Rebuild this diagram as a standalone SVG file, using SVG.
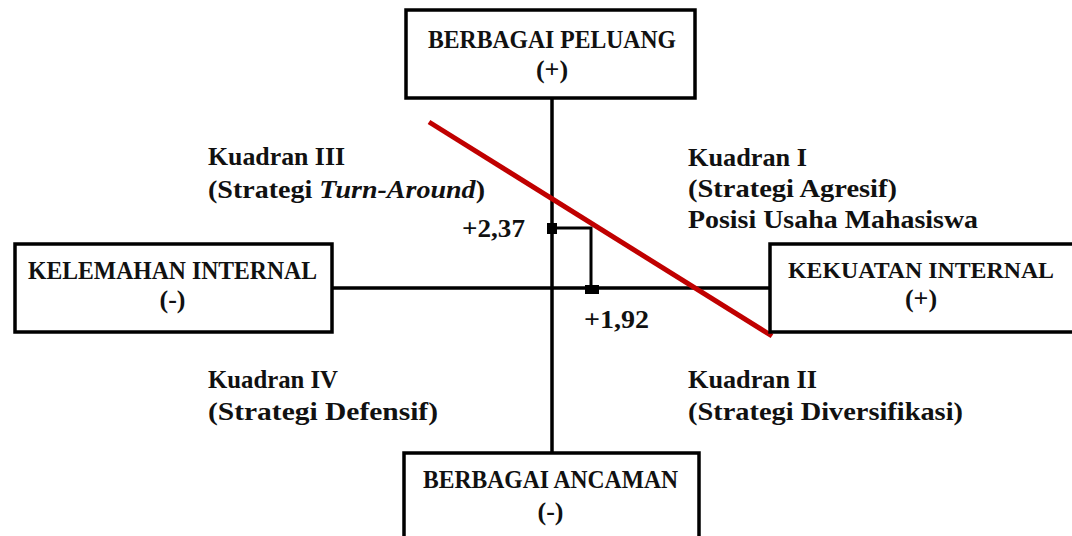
<svg xmlns="http://www.w3.org/2000/svg" width="1072" height="536" viewBox="0 0 1072 536">
<style>
.box{fill:#fff;stroke:#000;stroke-width:3.5}
.t{font-family:"Liberation Serif","Times New Roman",serif;font-weight:bold;font-size:26px;fill:#111}
.c{text-anchor:middle}
.ax{stroke:#000;stroke-width:3.5;fill:none}
</style>
<rect width="1072" height="536" fill="#fff"/>
<g id="connectors">
<line class="ax" x1="552" y1="99" x2="552" y2="453"/>
<line class="ax" x1="332" y1="288" x2="770" y2="288"/>
<polyline class="ax" points="552,228 591,228 591,289" style="stroke-width:3"/>
<rect x="547" y="223" width="10" height="11" fill="#000"/>
<rect x="585" y="285" width="14" height="9" fill="#000"/>
<line x1="429" y1="122" x2="772" y2="336" stroke="#c00000" stroke-width="5"/>
</g>
<g id="top">
<rect class="box" x="406" y="10" width="289" height="88"/>
<text class="t c" x="552" y="48" textLength="248" lengthAdjust="spacingAndGlyphs">BERBAGAI PELUANG</text>
<text class="t c" x="552" y="78">(+)</text>
</g>
<g id="left">
<rect class="box" x="15" y="244" width="317" height="88"/>
<text class="t c" x="172.5" y="279" textLength="289" lengthAdjust="spacingAndGlyphs">KELEMAHAN INTERNAL</text>
<text class="t c" x="172.5" y="308">(-)</text>
</g>
<g id="right">
<path class="box" d="M1072,244 H770 V332 H1072"/>
<text class="t c" x="921" y="278" textLength="266" lengthAdjust="spacingAndGlyphs" style="font-size:24px">KEKUATAN INTERNAL</text>
<text class="t c" x="921" y="307">(+)</text>
</g>
<g id="bottom">
<path class="box" d="M404,536 V453 H699 V536"/>
<text class="t c" x="550.5" y="488" textLength="255" lengthAdjust="spacingAndGlyphs">BERBAGAI ANCAMAN</text>
<text class="t c" x="550.5" y="520">(-)</text>
</g>
<g id="q3">
<text class="t" x="208" y="165" textLength="137" lengthAdjust="spacingAndGlyphs">Kuadran III</text>
<text class="t" x="208" y="198" textLength="277" lengthAdjust="spacingAndGlyphs">(Strategi <tspan font-style="italic">Turn-Around</tspan>)</text>
</g>
<g id="q1">
<text class="t" x="688" y="166" textLength="119" lengthAdjust="spacingAndGlyphs">Kuadran I</text>
<text class="t" x="688" y="197" textLength="209" lengthAdjust="spacingAndGlyphs">(Strategi Agresif)</text>
<text class="t" x="688" y="228" textLength="290" lengthAdjust="spacingAndGlyphs">Posisi Usaha Mahasiswa</text>
</g>
<g id="q4">
<text class="t" x="208" y="388" textLength="130" lengthAdjust="spacingAndGlyphs">Kuadran IV</text>
<text class="t" x="208" y="420" textLength="230" lengthAdjust="spacingAndGlyphs">(Strategi Defensif)</text>
</g>
<g id="q2">
<text class="t" x="688" y="388" textLength="129" lengthAdjust="spacingAndGlyphs">Kuadran II</text>
<text class="t" x="688" y="420" textLength="275" lengthAdjust="spacingAndGlyphs">(Strategi Diversifikasi)</text>
</g>
<g id="values">
<text class="t" x="462" y="237" textLength="63" lengthAdjust="spacingAndGlyphs">+2,37</text>
<text class="t" x="584" y="328" textLength="65" lengthAdjust="spacingAndGlyphs">+1,92</text>
</g>
</svg>
